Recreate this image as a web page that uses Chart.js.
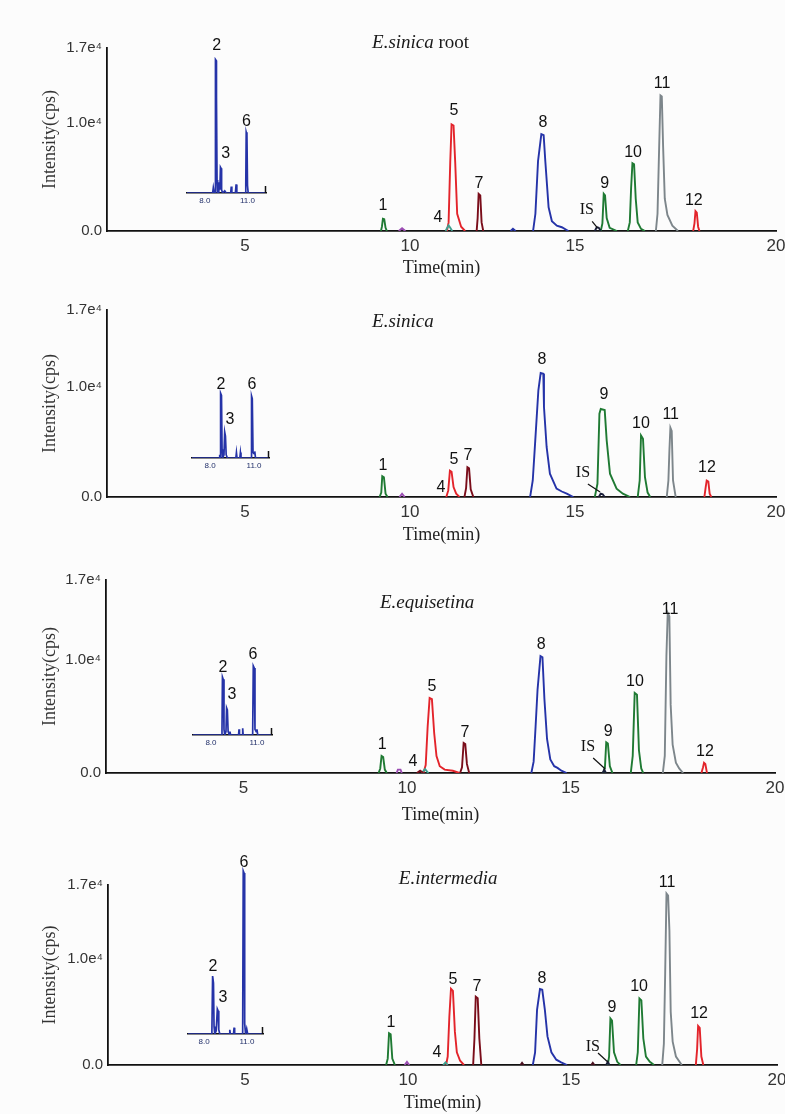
<!DOCTYPE html>
<html>
<head>
<meta charset="utf-8">
<script src="https://cdn.jsdelivr.net/npm/chart.js@4.4.1/dist/chart.umd.min.js"></script>
<style>
html,body{margin:0;padding:0;background:#fcfcfc;}
#wrap{position:relative;width:785px;height:1114px;overflow:hidden;background:#fcfcfc;}
#wrap canvas{position:absolute;left:0;top:0;}
</style>
</head>
<body>
<div id="wrap"></div>
<script>
// ---------------- DATA ----------------
const yTickValues = [0, 10000, 17000];
const yTickLabels = ["0.0", "1.0e⁴", "1.7e⁴"];
const xTickValues = [5, 10, 15, 20];
const xTickLabels = ["5", "10", "15", "20"];
const insetTickValues = [8, 11];
const insetTickLabels = ["8.0", "11.0"];
const sampleSpecies = ["E.sinica", "E.sinica", "E.equisetina", "E.intermedia"];
const sampleSuffix = [" root", "", "", ""];
const xAxisTitle = "Time(min)";
const yAxisTitle = "Intensity(cps)";

// traces: [peak id, [[time(min), intensity(cps)], ...]]
const rootTraces = [
  ["1",    [[9.12,0],[9.15,400],[9.18,1140],[9.22,1100],[9.26,300],[9.3,0]]],
  ["bump", [[9.66,0],[9.76,250],[9.86,0]]],
  ["4",    [[11.08,0],[11.13,300],[11.17,520],[11.22,300],[11.28,0]]],
  ["5",    [[11.12,0],[11.17,800],[11.22,6400],[11.26,9900],[11.32,9800],[11.37,6400],[11.43,1600],[11.55,400],[11.67,0]]],
  ["7",    [[12.02,0],[12.05,1200],[12.08,3450],[12.13,3300],[12.17,800],[12.22,0]]],
  ["8",    [[13.05,0],[13.12,200],[13.2,0]]],
  ["8",    [[13.73,0],[13.8,1600],[13.88,6500],[13.98,9000],[14.05,8900],[14.1,6500],[14.2,2200],[14.3,900],[14.45,500],[14.6,350],[14.8,0]]],
  ["IS",   [[15.6,0],[15.66,350],[15.72,300],[15.78,0]]],
  ["9",    [[15.78,0],[15.83,700],[15.87,3450],[15.91,3300],[15.96,1200],[16.05,300],[16.27,0]]],
  ["10",   [[16.6,0],[16.66,800],[16.7,4000],[16.74,6300],[16.79,6200],[16.84,3000],[16.9,800],[17.0,200],[17.12,0]]],
  ["11",   [[17.45,0],[17.5,1600],[17.55,7800],[17.59,12600],[17.63,12500],[17.67,7800],[17.72,3000],[17.8,1500],[17.95,500],[18.12,0]]],
  ["12",   [[18.58,0],[18.62,700],[18.65,1850],[18.69,1700],[18.73,400],[18.77,0]]]
];
const sinicaTraces = [
  ["1",    [[9.08,0],[9.13,400],[9.16,1900],[9.21,1800],[9.26,300],[9.32,0]]],
  ["bump", [[9.68,0],[9.76,300],[9.84,0]]],
  ["5",    [[11.1,0],[11.16,600],[11.21,2400],[11.26,2300],[11.32,900],[11.4,300],[11.5,0]]],
  ["7",    [[11.65,0],[11.7,800],[11.74,2700],[11.79,2600],[11.84,700],[11.92,0]]],
  ["8",    [[13.64,0],[13.72,1500],[13.79,4850],[13.89,9700],[13.96,11270],[14.04,11200],[14.06,8180],[14.14,4550],[14.24,2120],[14.44,760],[14.6,500],[14.75,300],[14.95,0]]],
  ["IS",   [[15.72,0],[15.78,300],[15.84,250],[15.9,0]]],
  ["9",    [[15.6,0],[15.68,1200],[15.74,7570],[15.78,8000],[15.9,7900],[15.96,5150],[16.06,2120],[16.26,760],[16.45,300],[16.67,0]]],
  ["10",   [[16.9,0],[16.96,1500],[17.0,5600],[17.06,5300],[17.12,1800],[17.2,400],[17.28,0]]],
  ["11",   [[17.78,0],[17.83,1500],[17.86,4200],[17.89,6300],[17.93,6000],[17.97,1500],[18.05,0]]],
  ["12",   [[18.92,0],[18.96,900],[18.99,1500],[19.04,1400],[19.08,300],[19.13,0]]]
];
const equisetinaTraces = [
  ["1",    [[9.13,0],[9.18,400],[9.22,1500],[9.27,1400],[9.32,300],[9.38,0]]],
  ["bump", [[9.68,0],[9.72,300],[9.8,300],[9.84,0]]],
  ["7",    [[10.3,0],[10.4,200],[10.5,0]]],
  ["4",    [[10.45,0],[10.55,350],[10.65,0]]],
  ["5",    [[10.5,0],[10.57,700],[10.63,4100],[10.69,6600],[10.76,6500],[10.83,3500],[10.9,1500],[11.0,600],[11.15,300],[11.4,200],[11.6,0]]],
  ["7",    [[11.62,0],[11.68,500],[11.73,2650],[11.78,2550],[11.83,800],[11.9,0]]],
  ["8",    [[13.8,0],[13.87,1000],[13.93,4100],[13.99,7350],[14.08,10300],[14.14,10200],[14.2,6500],[14.28,3000],[14.38,1200],[14.5,600],[14.6,450],[14.72,200],[14.88,0]]],
  ["IS",   [[15.98,0],[16.03,300],[16.08,0]]],
  ["9",    [[16.0,0],[16.05,500],[16.09,2700],[16.14,2600],[16.2,600],[16.28,0]]],
  ["10",   [[16.84,0],[16.9,1500],[16.96,7050],[17.03,6900],[17.09,2000],[17.16,400],[17.22,0]]],
  ["11",   [[17.82,0],[17.88,1500],[17.93,10300],[17.97,14100],[18.02,13800],[18.06,6000],[18.12,2500],[18.22,900],[18.32,400],[18.44,0]]],
  ["12",   [[19.0,0],[19.05,500],[19.08,900],[19.12,800],[19.17,0]]]
];
const intermediaTraces = [
  ["1",    [[9.33,0],[9.38,600],[9.42,3000],[9.47,2900],[9.52,600],[9.6,0]]],
  ["bump", [[9.9,0],[9.97,300],[10.04,0]]],
  ["4",    [[11.08,0],[11.15,250],[11.22,0]]],
  ["5",    [[11.17,0],[11.22,800],[11.27,4560],[11.32,7200],[11.38,7000],[11.44,3150],[11.5,1200],[11.6,400],[11.72,0]]],
  ["7",    [[12.0,0],[12.04,2500],[12.08,6450],[12.14,6300],[12.19,2500],[12.25,0]]],
  ["dot",  [[13.45,0],[13.5,200],[13.55,0]]],
  ["8",    [[13.83,0],[13.9,1200],[13.96,5200],[14.05,7170],[14.12,7100],[14.2,5200],[14.28,2700],[14.4,1200],[14.55,500],[14.7,250],[14.88,0]]],
  ["dot",  [[15.62,0],[15.67,200],[15.72,0]]],
  ["IS",   [[16.08,0],[16.13,300],[16.18,0]]],
  ["9",    [[16.13,0],[16.17,800],[16.21,4400],[16.26,4200],[16.32,1200],[16.42,300],[16.52,0]]],
  ["10",   [[17.0,0],[17.05,1200],[17.1,6290],[17.16,6100],[17.22,2500],[17.3,800],[17.42,300],[17.55,0]]],
  ["11",   [[17.8,0],[17.85,2000],[17.89,8650],[17.93,16200],[17.98,16000],[18.02,12700],[18.06,5000],[18.12,2200],[18.22,800],[18.4,0]]],
  ["12",   [[18.83,0],[18.87,1500],[18.9,3680],[18.95,3500],[19.0,800],[19.06,0]]]
];

// peak labels: [text, time, intensity]
const rootLabels = [["1",9.18,2400],["4",10.85,1200],["5",11.33,11200],["7",12.09,4450],["8",14.03,10100],["IS",15.36,1950],["9",15.9,4450],["10",16.76,7300],["11",17.64,13700],["12",18.6,2850]];
const sinicaLabels = [["1",9.18,2900],["4",10.94,900],["5",11.33,3360],["7",11.76,3800],["8",14.0,12450],["IS",15.24,2180],["9",15.88,9270],["10",17.0,6700],["11",17.9,7450],["12",19.0,2640]];
const equisetinaLabels = [["1",9.24,2470],["4",10.18,970],["5",10.76,7580],["7",11.77,3520],["8",14.1,11280],["IS",15.53,2290],["9",16.15,3610],["10",16.97,8020],["11",18.04,14360],["12",19.11,1850]];
const intermediaLabels = [["1",9.48,3960],["4",10.89,1130],["5",11.38,8020],["7",12.12,7360],["8",14.11,8200],["IS",15.67,1700],["9",16.26,5380],["10",17.09,7360],["11",17.95,17260],["12",18.93,4900]];

// IS leader lines: [[time, intensity], [time, intensity]]
const rootLeader = [[15.52,900],[15.68,300]];
const sinicaLeader = [[15.39,1180],[15.76,450]];
const equisetinaLeader = [[15.69,1320],[16.06,350]];
const intermediaLeader = [[15.83,1130],[16.13,280]];

// inset traces (peaks 2, 3, 6)
const rootInset = [[6.75,0],[8.55,0],[8.6,500],[8.66,0],[8.72,0],[8.75,12400],[8.8,12300],[8.82,8900],[8.86,1200],[8.9,0],[8.98,0],[9.02,1000],[9.06,300],[9.1,2400],[9.14,2300],[9.18,300],[9.25,0],[9.4,200],[9.5,0],[9.82,0],[9.86,600],[9.9,0],[10.15,0],[10.2,800],[10.25,0],[10.84,0],[10.88,800],[10.91,5650],[10.96,5400],[11.0,700],[11.05,0],[12.3,0]];
const sinicaInset = [[6.77,0],[8.62,0],[8.66,300],[8.7,0],[8.72,5900],[8.78,5700],[8.82,800],[8.86,0],[8.95,300],[9.0,2360],[9.05,2000],[9.1,300],[9.18,0],[9.76,0],[9.8,500],[9.84,0],[10.03,0],[10.07,500],[10.11,0],[10.8,0],[10.83,5640],[10.88,5400],[10.93,500],[11.0,400],[11.05,600],[11.1,0],[12.02,0]];
const equisetinaInset = [[6.83,0],[8.68,0],[8.72,400],[8.75,5100],[8.8,4900],[8.85,500],[8.9,0],[8.98,300],[9.02,2380],[9.07,2200],[9.12,300],[9.2,0],[9.24,300],[9.28,0],[9.8,0],[9.83,500],[9.86,0],[10.04,0],[10.07,600],[10.1,0],[10.72,0],[10.76,6080],[10.82,5900],[10.87,500],[10.95,300],[11.0,500],[11.05,0],[11.98,0]];
const intermediaInset = [[6.88,0],[8.5,0],[8.55,300],[8.6,5470],[8.66,4800],[8.7,700],[8.75,0],[8.85,300],[8.93,2360],[8.98,2200],[9.03,400],[9.1,0],[9.76,0],[9.8,400],[9.84,0],[10.06,0],[10.1,600],[10.14,0],[10.7,0],[10.74,15400],[10.8,15200],[10.82,11600],[10.86,1000],[10.9,0],[10.98,500],[11.05,0],[12.12,0]];
const rootInsetLabels = [["2",8.84,13700],["3",9.47,3620],["6",10.93,6600]];
const sinicaInsetLabels = [["2",8.75,6640],["3",9.36,3450],["6",10.86,6640]];
const equisetinaInsetLabels = [["2",8.78,5900],["3",9.37,3520],["6",10.74,7050]];
const intermediaInsetLabels = [["2",8.63,6320],["3",9.33,3400],["6",10.79,16220]];

// panel title anchors [time, intensity]
const titleAnchors = [[8.85,17470],[8.85,15900],[9.17,14980],[9.72,17550]];

// ---------------- STYLE / LAYOUT ----------------
const peakColor = {
  "1":"#1f7a33","9":"#1f7a33","10":"#1f7a33",
  "5":"#e3242b","12":"#e3242b",
  "7":"#7a0d1a",
  "8":"#2533a8","inset":"#2533a8",
  "11":"#7d868b",
  "IS":"#1b1f3a","dot":"#4a1020",
  "4":"#3f9f8f","bump":"#9b4db3"
};
const W = 785, H = 1114;
const panels = [
  {left:107,right:776,top:48, bottom:231, xMin:0.82, xMax:21.09, gap:37, inset:{left:187,right:266,base:193, xMin:6.75,xMax:12.3}},
  {left:107,right:776,top:310,bottom:497, xMin:0.82, xMax:21.09, gap:38, inset:{left:192,right:269,base:458, xMin:6.77,xMax:12.02}},
  {left:106,right:775,top:580,bottom:773, xMin:0.795,xMax:21.25, gap:42, inset:{left:193,right:272,base:735, xMin:6.83,xMax:11.98}},
  {left:108,right:777,top:885,bottom:1065,xMin:0.80, xMax:21.32, gap:38, inset:{left:188,right:263,base:1034,xMin:6.88,xMax:12.12}}
];
const allTraces = [rootTraces, sinicaTraces, equisetinaTraces, intermediaTraces];
const allLabels = [rootLabels, sinicaLabels, equisetinaLabels, intermediaLabels];
const allLeaders = [rootLeader, sinicaLeader, equisetinaLeader, intermediaLeader];
const allInsets = [rootInset, sinicaInset, equisetinaInset, intermediaInset];
const allInsetLabels = [rootInsetLabels, sinicaInsetLabels, equisetinaInsetLabels, intermediaInsetLabels];

const wrap = document.getElementById('wrap');
function addCanvas(){
  const c = document.createElement('canvas');
  c.width = W; c.height = H;
  c.style.width = W+'px'; c.style.height = H+'px';
  wrap.appendChild(c);
  return c;
}
const toXY = pts => pts.map(p => ({x:p[0], y:p[1]}));
const noPad = s => { s.paddingLeft = 0; s.paddingRight = 0; s.paddingTop = 0; s.paddingBottom = 0; };

function labelPlugin(labels, leader, titleIdx, endTick){
  return {
    id:'peakText',
    afterDatasetsDraw(chart){
      const ctx = chart.ctx, xs = chart.scales.x, ys = chart.scales.y;
      ctx.save();
      ctx.fillStyle = '#111';
      ctx.textAlign = 'center';
      ctx.textBaseline = 'middle';
      labels.forEach(([txt,t,v]) => {
        ctx.font = txt === 'IS' ? '16px "Liberation Serif"' : '16px "Liberation Sans"';
        ctx.fillText(txt, xs.getPixelForValue(t), ys.getPixelForValue(v));
      });
      if (leader){
        ctx.strokeStyle = '#111'; ctx.lineWidth = 1.2;
        ctx.beginPath();
        ctx.moveTo(xs.getPixelForValue(leader[0][0]), ys.getPixelForValue(leader[0][1]));
        ctx.lineTo(xs.getPixelForValue(leader[1][0]), ys.getPixelForValue(leader[1][1]));
        ctx.stroke();
      }
      if (titleIdx !== null){
        const [t,v] = titleAnchors[titleIdx];
        const px = xs.getPixelForValue(t), py = ys.getPixelForValue(v);
        ctx.textAlign = 'left';
        ctx.fillStyle = '#1a1a1a';
        ctx.font = 'italic 19px "Liberation Serif"';
        ctx.fillText(sampleSpecies[titleIdx], px, py);
        const w = ctx.measureText(sampleSpecies[titleIdx]).width;
        if (sampleSuffix[titleIdx]){
          ctx.font = '19px "Liberation Serif"';
          ctx.fillText(sampleSuffix[titleIdx], px + w, py);
        }
      }
      if (endTick){
        const a = chart.chartArea;
        ctx.strokeStyle = '#111'; ctx.lineWidth = 1.5;
        ctx.beginPath();
        ctx.moveTo(a.right - 0.5, a.bottom);
        ctx.lineTo(a.right - 0.5, a.bottom - 7);
        ctx.stroke();
      }
      ctx.restore();
    }
  };
}

function mainChart(i){
  const L = panels[i];
  const xBox = L.gap + 10.8;
  new Chart(addCanvas(), {
    type:'line',
    data:{datasets: allTraces[i].map(([id,pts]) => ({
      data: toXY(pts), borderColor: peakColor[id], borderWidth: 1.9,
      pointRadius: 0, tension: 0, fill: false
    }))},
    options:{
      responsive:false, animation:false, devicePixelRatio:1,
      layout:{autoPadding:false, padding:{left:0, top:L.top, right:W-L.right, bottom:Math.max(0, H-L.bottom-xBox)}},
      plugins:{legend:{display:false}, tooltip:{enabled:false}},
      scales:{
        x:{
          type:'linear', min:L.xMin, max:L.xMax,
          grid:{display:false, drawTicks:false},
          border:{display:true, color:'#111', width:1.8},
          afterBuildTicks: s => {
            s.ticks = xTickValues.map(v => ({value:v}));
            // the reference prints its last label at the end of the axis
            s.ticks[s.ticks.length-1].value = s.max;
          },
          ticks:{autoSkip:false, maxRotation:0, padding:5, color:'#333',
                 font:{family:'Liberation Sans', size:17},
                 callback:(v,idx) => xTickLabels[idx]},
          title:{display:true, text:xAxisTitle, color:'#222',
                 font:{family:'Liberation Serif', size:18}, padding:{top:0,bottom:0}},
          afterFit: s => { s.height = xBox; noPad(s); }
        },
        y:{
          type:'linear', min:0, max:17000,
          grid:{display:false, drawTicks:false},
          border:{display:true, color:'#111', width:1.8},
          afterBuildTicks: s => { s.ticks = yTickValues.map(v => ({value:v})); },
          ticks:{autoSkip:false, padding:5, color:'#333',
                 font:{family:'Liberation Sans', size:15},
                 callback:(v,idx) => yTickLabels[idx]},
          title:{display:true, text:yAxisTitle, color:'#333',
                 font:{family:'Liberation Serif', size:18}, padding:{top:39,bottom:0}},
          afterFit: s => { s.width = L.left; noPad(s); }
        }
      }
    },
    plugins:[labelPlugin(allLabels[i], allLeaders[i], i, false)]
  });
}

function insetChart(i){
  const L = panels[i], I = L.inset;
  const h = L.bottom - L.top;
  const xBox = 14;
  new Chart(addCanvas(), {
    type:'line',
    data:{datasets:[{data: toXY(allInsets[i]), borderColor: peakColor.inset, borderWidth: 1.7,
      pointRadius:0, tension:0, fill:false}]},
    options:{
      responsive:false, animation:false, devicePixelRatio:1,
      layout:{autoPadding:false, padding:{left:I.left, top:I.base-h, right:W-I.right, bottom:H-I.base-xBox}},
      plugins:{legend:{display:false}, tooltip:{enabled:false}},
      scales:{
        x:{
          type:'linear', min:I.xMin, max:I.xMax,
          grid:{display:false, drawTicks:false},
          border:{display:true, color:'#111', width:1.5},
          afterBuildTicks: s => { s.ticks = insetTickValues.map(v => ({value:v})); },
          ticks:{autoSkip:false, maxRotation:0, padding:3, color:'#22306a',
                 font:{family:'Liberation Sans', size:8},
                 callback:(v,idx) => insetTickLabels[idx]},
          afterFit: s => { s.height = xBox; noPad(s); }
        },
        y:{type:'linear', min:0, max:17000, display:false}
      }
    },
    plugins:[labelPlugin(allInsetLabels[i], null, null, true)]
  });
}

for (let i = 0; i < 4; i++){ mainChart(i); }
for (let i = 0; i < 4; i++){ insetChart(i); }
</script>
</body>
</html>
